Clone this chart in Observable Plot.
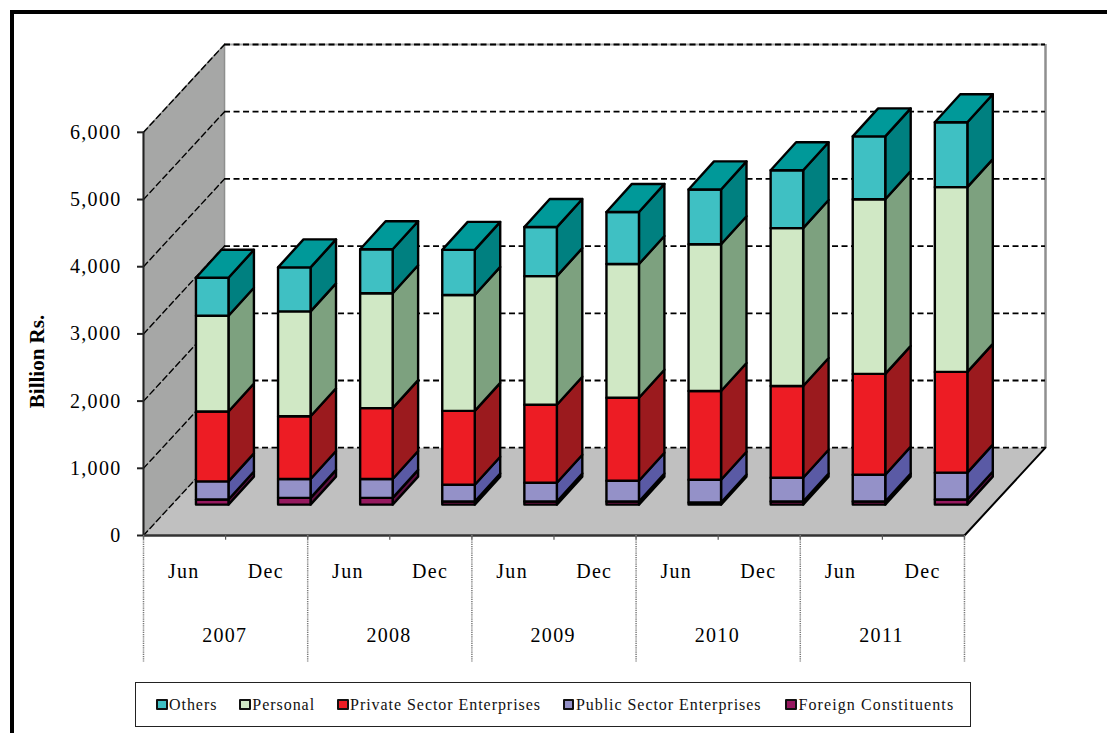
<!DOCTYPE html>
<html><head><meta charset="utf-8">
<script src="https://cdn.jsdelivr.net/npm/d3@7"></script>
<script src="https://cdn.jsdelivr.net/npm/@observablehq/plot@0.6"></script>
<style>
html,body{margin:0;padding:0;background:#fff;width:1107px;height:733px;overflow:hidden}
#frame{position:absolute;left:10px;top:10px;width:1200px;height:800px;border-left:4.5px solid #000;border-top:4.5px solid #000;pointer-events:none}
#chart{position:absolute;left:0;top:0}
#chart svg text{letter-spacing:1.3px;-webkit-text-stroke:.25px #000}
#chart svg .plain text{letter-spacing:0;-webkit-text-stroke:0}
#legend{position:absolute;left:135px;top:682px;width:836px;height:45px;border:1.3px solid #222;display:flex;align-items:center;padding-left:20px;box-sizing:border-box;gap:22px;font:16px "Liberation Serif",serif;letter-spacing:.95px;color:#111}
#legend span.i{display:flex;align-items:center;white-space:nowrap}
#legend span.i:last-child{margin-left:2px;letter-spacing:1.1px}
#legend i{display:inline-block;width:7.5px;height:7.5px;border:2px solid #111;border-radius:1px;margin-right:1.5px}
</style></head>
<body>
<div id="chart"></div>
<div id="frame"></div>
<div id="legend"></div>
<script>
const periods = ["Jun","Dec","Jun","Dec","Jun","Dec","Jun","Dec","Jun","Dec"];
const years = ["2007","2008","2009","2010","2011"];
const ticks = [0,1000,2000,3000,4000,5000,6000];
const foreign = [75,100,100,45,45,45,30,45,45,75];
const publicSector = [270,280,280,250,280,310,340,355,400,400];
const privateSector = [1040,935,1055,1100,1160,1235,1320,1365,1500,1500];
const personal = [1425,1560,1710,1725,1915,1990,2185,2350,2600,2750];
const others = [565,655,655,670,730,775,815,860,935,965];

const seriesNames = ["Foreign Constituents","Public Sector Enterprises","Private Sector Enterprises","Personal","Others"];
const seriesValues = [foreign,publicSector,privateSector,personal,others];
const frontColors = ["#96195f","#9491c8","#ed1c24","#d0e8c5","#3fc0c3"];
const sideColors = ["#5e1040","#5a5aa5","#9b1a1e","#7da17f","#008080"];
const topColor = "#009999";

// 3D projection expressed in scale units
const wallDX = 0.987, wallDV = 1307;     // full depth of the floor
const barStart = 0.639, barW = 0.396;    // front-left of a bar within its slot
const barDX = 0.31, barDV = 417;         // depth of a bar
const baseV = 460;                       // value offset of the bars' front plane
const below = -1890;                     // bottom of the category dividers
const tickLen = -70;

const poly = pts => pts.map(([x,y]) => ({x,y}));
const face = (pts, o) => Plot.line(poly([...pts, pts[0]]), {x:"x", y:"y", curve:"linear", ...o});

const barMarks = [];
periods.forEach((_, i) => {
  const x0 = i + barStart, x1 = x0 + barW;
  let cum = baseV;
  seriesValues.forEach((vals, s) => {
    const v0 = cum, v1 = cum + vals[i];
    cum = v1;
    const st = {stroke:"#000", strokeWidth:2.4, strokeLinejoin:"round"};
    barMarks.push(face([[x1,v0],[x1+barDX,v0+barDV],[x1+barDX,v1+barDV],[x1,v1]], {fill:sideColors[s], ...st}));
    barMarks.push(face([[x0,v0],[x1,v0],[x1,v1],[x0,v1]], {fill:frontColors[s], ...st}));
    if (s === seriesValues.length-1)
      barMarks.push(face([[x0,v1],[x1,v1],[x1+barDX,v1+barDV],[x0+barDX,v1+barDV]], {fill:topColor, ...st}));
  });
});

const n = periods.length;
const slots = d3.range(n+1);
const yearStarts = d3.range(years.length+1).map(i => i*2);

const chart = Plot.plot({
  width:1107, height:663,
  marginLeft:143, marginRight:62, marginTop:44, marginBottom:128,
  x:{type:"linear", domain:[0,n+wallDX], axis:null},
  y:{type:"linear", domain:[0,6000+wallDV], axis:null},
  style:{fontFamily:"'Liberation Serif',serif", color:"#000", background:"transparent", overflow:"visible"},
  marks:[
    // walls and floor
    face([[0,0],[wallDX,wallDV],[wallDX,6000+wallDV],[0,6000]], {fill:"#a6a7a6", stroke:"#8e8f8e", strokeWidth:1.5}),
    face([[0,0],[n,0],[n+wallDX,wallDV],[wallDX,wallDV]], {fill:"#c0c0c0", stroke:"none"}),
    Plot.ruleX([n+wallDX], {y1:wallDV, y2:6000+wallDV, stroke:"#8f8f8f", strokeWidth:2.5}),
    Plot.ruleY([6000+wallDV], {x1:wallDX, x2:n+wallDX, stroke:"#aaa", strokeWidth:2}),
    // grid on back wall and side wall
    Plot.ruleY(ticks.map(t => t+wallDV), {x1:wallDX, x2:n+wallDX, stroke:"#000", strokeWidth:1.8, strokeDasharray:"6 3.5"}),
    ...ticks.map(t => Plot.line(poly([[0,t],[wallDX,t+wallDV]]), {x:"x", y:"y", stroke:"#000", strokeWidth:1.4, strokeDasharray:"6 3.5"})),
    // axes edges
    Plot.ruleX([0], {y1:0, y2:6000, stroke:"#222", strokeWidth:2}),
    Plot.ruleY([0], {x1:0, x2:n, stroke:"#333", strokeWidth:2.5}),
    Plot.line(poly([[n,0],[n+wallDX,wallDV]]), {x:"x", y:"y", stroke:"#000", strokeWidth:2}),
    // category ticks and dividers
    Plot.ruleX(slots, {y1:0, y2:tickLen, stroke:"#555", strokeWidth:1.2}),
    Plot.ruleX(yearStarts, {y1:0, y2:below, stroke:"#777", strokeWidth:1.5, strokeDasharray:"1.2 1"}),
    // y axis
    Plot.axisY({ticks, tickFormat:d3.format(","), tickSize:6, tickPadding:16, label:null, fontSize:20, stroke:"#222", strokeWidth:2}),
    Plot.text(["Billion Rs."], {x:()=>-1.29, y:()=>2590, rotate:-90, fontWeight:"bold", fontSize:21, fill:"#000", className:"plain"}),
    // category labels
    Plot.text(periods, {x:(d,i)=>i+0.49, y:()=>0, dy:36, fontSize:20, fill:"#000"}),
    Plot.text(years, {x:(d,i)=>i*2+0.99, y:()=>0, dy:100, fontSize:20, fill:"#000"}),
    ...barMarks
  ]
});
document.getElementById("chart").append(chart);

const legend = document.getElementById("legend");
[...seriesNames.keys()].reverse().forEach(k => {
  const it = document.createElement("span"); it.className = "i";
  const sw = document.createElement("i"); sw.style.background = frontColors[k];
  it.append(sw, seriesNames[k]);
  legend.append(it);
});
</script>
</body></html>
